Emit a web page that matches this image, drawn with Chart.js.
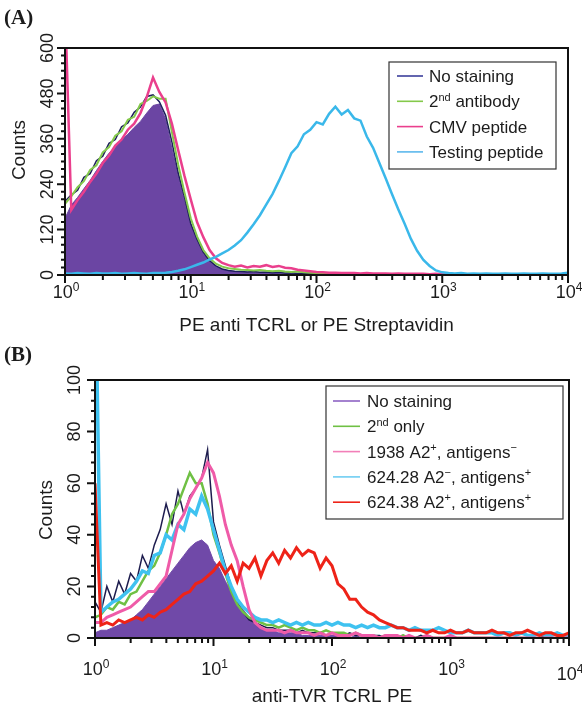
<!DOCTYPE html>
<html>
<head>
<meta charset="utf-8">
<script src="https://cdn.jsdelivr.net/npm/chart.js@4.4.1/dist/chart.umd.min.js"></script>
<style>
  body { margin: 0; background: #fff; }
  #wrap { position: relative; width: 582px; height: 705px; }
  canvas { position: absolute; left: 0; }
</style>
</head>
<body>
<div id="wrap">
  <canvas id="chartA" width="582" height="345" style="top:0"></canvas>
  <canvas id="chartB" width="582" height="375" style="top:330px"></canvas>
</div>
<script>
// x channels: 81 bins, 0.05 decade apart, from 10^0 to 10^4
const bins = Array.from({ length: 81 }, (_, i) => Math.pow(10, i / 20));
const decadeLabels = ['0', '1', '2', '3', '4'];

// ---- Panel A ----
const yTicksA = [0, 120, 240, 360, 480, 600];
const noStainFillA = [150,185,205,228,250,276,300,322,338,356,
  372,390,406,428,448,452,412,335,262,196,
  132,90,56,36,22,15,11,9,8,7,
  7,6,6,5,5,4,4,3,3,2,
  2,2,2,1,1,1,1,1,1,1,
  1,1,1,1,1,0,0,0,0,0,
  0,0,0,0,0,0,0,0,0,0,
  0,0,0,0,0,0,0,0,0,0,
  0];
const noStainLineA = [195,212,224,258,268,302,314,348,358,392,
  402,430,444,472,476,458,422,352,270,206,
  136,94,60,38,24,16,12,10,9,8,
  9,7,8,6,7,5,6,4,5,3,
  4,3,2,3,2,2,1,2,1,1,
  1,1,1,0,1,0,0,1,0,0,
  0,0,0,0,0,0,0,0,0,0,
  0,0,0,0,0,0,0,0,0,0,
  0];
const secondAbA = [188,208,232,248,278,290,324,338,368,380,
  410,418,452,460,472,466,466,378,292,218,
  150,102,66,44,30,22,18,16,14,13,
  12,13,11,10,11,9,8,9,7,6,
  5,5,4,4,3,3,3,2,2,2,
  2,1,2,1,1,1,1,0,1,0,
  0,1,0,0,0,0,0,0,0,0,
  0,0,0,0,0,0,0,0,0,0,
  0];
const cmvA = [720,172,198,220,246,268,296,316,342,358,
  384,400,428,470,522,484,456,400,330,262,
  200,140,100,66,44,32,26,22,25,20,
  24,22,26,21,24,19,18,14,12,10,
  8,7,6,6,5,5,5,4,5,4,
  4,4,3,4,3,3,3,3,2,3,
  2,1,1,1,0,0,1,0,0,0,
  0,0,0,0,0,0,0,0,0,0,
  0];
const testingA = [4,3,5,4,3,5,4,4,5,3,
  4,5,4,3,5,5,6,8,11,15,
  21,27,33,41,48,57,66,78,92,112,
  134,158,186,214,248,284,322,340,372,384,
  404,398,426,445,424,436,414,408,366,336,
  296,256,214,174,136,96,64,40,24,12,
  7,5,4,5,3,4,3,4,3,3,
  4,3,3,4,3,3,4,3,3,4,
  6];
const legendA = [
  [['No staining']],
  [['2'], ['nd', 1], [' antibody']],
  [['CMV peptide']],
  [['Testing peptide']]
];

// ---- Panel B ----
const yTicksB = [0, 20, 40, 60, 80, 100];
const noStainFillB = [2,3,3,4,5,6,7,9,11,14,
  17,20,23,26,29,32,35,37,38,36,
  30,27,22,18,14,11,8,6,4,3,
  3,2,2,2,2,1,1,1,1,1,
  1,1,1,0,1,0,0,0,0,0,
  0,0,0,0,0,0,0,0,0,0,
  0,0,0,0,0,0,0,0,0,0,
  0,0,0,0,0,0,0,0,0,0,
  0];
const noStainLineB = [14,10,20,14,22,17,25,22,32,27,
  36,42,52,44,57,48,55,58,62,73,
  45,36,28,20,14,10,7,6,5,4,
  4,3,3,3,2,3,2,2,2,1,
  2,1,1,2,1,1,0,1,1,0,
  1,0,1,0,0,1,0,0,0,0,
  0,0,0,0,0,0,0,0,0,0,
  0,0,0,0,0,0,1,0,0,0,
  0];
const secondOnlyB = [8,9,12,11,14,13,17,18,22,26,
  28,33,40,48,52,58,64,60,60,52,
  40,33,25,18,13,10,8,7,6,5,
  5,4,5,4,3,4,3,3,2,3,
  2,2,2,1,2,1,1,1,0,1,
  1,0,1,0,0,0,1,0,0,0,
  0,0,0,0,0,0,0,0,0,0,
  0,0,0,0,0,0,0,0,0,0,
  0];
const line1938B = [6,6,8,9,10,11,12,14,16,18,
  18,21,24,34,44,48,54,58,62,68,
  64,55,44,36,30,20,11,6,4,3,
  3,3,2,3,2,2,2,1,2,1,
  2,1,1,1,2,1,1,1,0,1,
  1,1,0,1,0,0,1,0,0,0,
  1,0,0,0,0,0,0,0,0,0,
  0,0,0,0,0,0,0,0,0,0,
  0];
const line62428B = [150,10,12,14,15,17,19,22,26,25,
  32,33,40,38,44,42,50,48,55,50,
  42,34,26,20,15,12,10,8,7,7,
  6,7,6,5,6,5,6,5,5,6,
  5,6,5,5,4,5,4,5,4,4,
  5,4,4,3,4,3,3,3,4,3,
  2,2,2,3,2,2,2,2,1,2,
  2,1,2,1,1,2,1,1,2,1,
  1];
const line62438B = [60,5,6,5,7,6,7,8,7,9,
  8,10,11,13,15,17,18,21,22,24,
  26,29,25,28,22,29,27,31,24,30,
  33,29,34,31,35,32,34,33,27,31,
  28,21,19,15,15,12,10,9,7,6,
  5,4,4,3,3,3,2,3,2,2,
  3,2,2,3,2,2,2,3,2,2,
  1,2,2,3,2,1,2,2,1,1,
  2];
const legendB = [
  [['No staining']],
  [['2'], ['nd', 1], [' only']],
  [['1938 A2'], ['+', 1], [', antigens'], ['\u2212', 1]],
  [['624.28 A2'], ['\u2212', 1], [', antigens'], ['+', 1]],
  [['624.38 A2'], ['+', 1], [', antigens'], ['+', 1]]
];

const SANS = '"Liberation Sans", Arial, Helvetica, sans-serif';
const INK = '#1c1c1c';

function pts(values) {
  return values.map((v, i) => ({ x: bins[i], y: v }));
}

// draws text made of [text, isSuperscript] parts
function richWidth(ctx, parts, size) {
  let w = 0;
  parts.forEach(([t, sup]) => {
    ctx.font = (sup ? Math.round(size * 0.65) : size) + 'px ' + SANS;
    w += ctx.measureText(t).width;
  });
  return w;
}
function drawRich(ctx, parts, x, y, size) {
  parts.forEach(([t, sup]) => {
    ctx.font = (sup ? Math.round(size * 0.65) : size) + 'px ' + SANS;
    ctx.fillText(t, x, sup ? y - size * 0.4 : y);
    x += ctx.measureText(t).width;
  });
}

function decor(p) {
  return {
    id: 'decor',
    afterDatasetsDraw(chart) {
      const ctx = chart.ctx, a = chart.chartArea;
      const xs = chart.scales.x, ys = chart.scales.y;
      ctx.save();
      ctx.fillStyle = INK;
      ctx.strokeStyle = '#111';

      // frame
      ctx.lineWidth = 2;
      ctx.strokeRect(a.left, a.top, a.right - a.left, a.bottom - a.top);

      // x ticks, major at decades, minor at 2..9
      ctx.lineWidth = 2;
      ctx.beginPath();
      for (let d = 0; d <= 4; d++) {
        for (let k = 1; k <= (d === 4 ? 1 : 9); k++) {
          const x = xs.getPixelForValue(k * Math.pow(10, d));
          ctx.moveTo(x, a.bottom);
          ctx.lineTo(x, a.bottom + (k === 1 ? 8 : 5));
        }
      }
      // y ticks
      for (let v = 0; v <= p.yMax; v += p.yMinor) {
        const y = ys.getPixelForValue(v);
        ctx.moveTo(a.left, y);
        ctx.lineTo(a.left - (p.yTicks.includes(v) ? 8 : 4), y);
      }
      ctx.stroke();

      // x tick labels 10^n
      ctx.textAlign = 'left';
      ctx.textBaseline = 'alphabetic';
      decadeLabels.forEach((e, i) => {
        const parts = [['10'], [e, 1]];
        const x = xs.getPixelForValue(Math.pow(10, i));
        const w = richWidth(ctx, parts, 18);
        const drop = i === 4 ? p.lastDrop : 0;
        drawRich(ctx, parts, x - w / 2 + 1, a.bottom + p.xLabelGap + drop, 18);
      });

      // y tick labels, rotated
      ctx.font = '18px ' + SANS;
      ctx.textAlign = 'center';
      p.yTicks.forEach(v => {
        ctx.save();
        ctx.translate(p.yLabelX, ys.getPixelForValue(v));
        ctx.rotate(-Math.PI / 2);
        ctx.fillText(String(v), 0, 0);
        ctx.restore();
      });

      // axis titles
      ctx.font = '19px ' + SANS;
      ctx.save();
      ctx.translate(p.countsX, p.countsY);
      ctx.rotate(-Math.PI / 2);
      ctx.fillText('Counts', 0, 0);
      ctx.restore();
      ctx.fillText(p.xTitle, (a.left + a.right) / 2, p.xTitleY);

      // panel letter
      ctx.textAlign = 'left';
      ctx.font = 'bold 21px "Liberation Serif", "Times New Roman", serif';
      ctx.fillText(p.letter, 4, p.letterY);

      // legend box
      const L = p.legend;
      ctx.fillStyle = '#fff';
      ctx.fillRect(L.x, L.y, L.w, L.h);
      ctx.strokeStyle = '#333';
      ctx.lineWidth = 1.2;
      ctx.strokeRect(L.x, L.y, L.w, L.h);
      L.labels.forEach((parts, i) => {
        const y = L.firstRow + i * L.rowStep;
        ctx.strokeStyle = L.colors[i];
        ctx.lineWidth = 1.6;
        ctx.beginPath();
        ctx.moveTo(L.lineX0, y);
        ctx.lineTo(L.lineX1, y);
        ctx.stroke();
        ctx.fillStyle = INK;
        drawRich(ctx, parts, L.textX, y + 6, 17);
      });
      ctx.restore();
    }
  };
}

function makeChart(id, datasets, yMax, pad, xH, yW, panel) {
  return new Chart(document.getElementById(id), {
    type: 'line',
    data: { datasets },
    options: {
      responsive: false,
      animation: false,
      devicePixelRatio: 1,
      layout: { padding: pad },
      elements: { point: { radius: 0 }, line: { tension: 0, borderJoinStyle: 'miter' } },
      plugins: { legend: { display: false }, tooltip: { enabled: false } },
      scales: {
        x: {
          type: 'logarithmic', min: 1, max: 10000,
          ticks: { display: false }, grid: { display: false }, border: { display: false },
          afterFit: s => { s.height = xH; }
        },
        y: {
          min: 0, max: yMax,
          ticks: { display: false }, grid: { display: false }, border: { display: false },
          afterFit: s => { s.width = yW; }
        }
      }
    },
    plugins: [decor(panel)]
  });
}

// colours
const purpleFillA = '#6b45a3', navyA = '#1d1f5c', greenA = '#84c94b', pinkA = '#ea3f8d', cyanA = '#3ab8ea';
const purpleFillB = '#7049a8', navyB = '#1d1c4e', greenB = '#6fc044', pinkB = '#ef5ba8', cyanB = '#3fc2f0', redB = '#ee2318';

makeChart('chartA', [
  { label: 'Testing peptide', data: pts(testingA), borderColor: cyanA, borderWidth: 2.5, fill: false, order: 0 },
  { label: 'CMV peptide', data: pts(cmvA), borderColor: pinkA, borderWidth: 2.5, fill: false, order: 1 },
  { label: '2nd antibody', data: pts(secondAbA), borderColor: greenA, borderWidth: 2, fill: false, order: 2 },
  { label: 'No staining', data: pts(noStainLineA), borderColor: navyA, borderWidth: 1.5, fill: false, order: 3 },
  { label: 'No staining fill', data: pts(noStainFillA), borderColor: purpleFillA, borderWidth: 1, backgroundColor: purpleFillA, fill: 'origin', order: 4 }
], 600, { left: 0, right: 14, top: 48, bottom: 0 }, 70, 65, {
  yMax: 600, yMinor: 20, yTicks: yTicksA, yLabelX: 53,
  xLabelGap: 23, lastDrop: 0,
  countsX: 25, countsY: 150,
  xTitle: 'PE anti TCRL or PE Streptavidin', xTitleY: 331,
  letter: '(A)', letterY: 24,
  legend: {
    x: 389, y: 62, w: 167, h: 107, firstRow: 76, rowStep: 25.3,
    lineX0: 397, lineX1: 423, textX: 429,
    labels: legendA, colors: ['#3d3f9c', greenA, pinkA, '#5cb8ec']
  }
});

makeChart('chartB', [
  { label: '624.38 A2+, antigens+', data: pts(line62438B), borderColor: redB, borderWidth: 3, fill: false, order: 0 },
  { label: '1938 A2+, antigens-', data: pts(line1938B), borderColor: pinkB, borderWidth: 3, fill: false, order: 1 },
  { label: '624.28 A2-, antigens+', data: pts(line62428B), borderColor: cyanB, borderWidth: 3.5, fill: false, order: 2 },
  { label: '2nd only', data: pts(secondOnlyB), borderColor: greenB, borderWidth: 2.5, fill: false, order: 3 },
  { label: 'No staining', data: pts(noStainLineB), borderColor: navyB, borderWidth: 1.5, fill: false, order: 4 },
  { label: 'No staining fill', data: pts(noStainFillB), borderColor: purpleFillB, borderWidth: 1, backgroundColor: purpleFillB, fill: 'origin', order: 5 }
], 100, { left: 0, right: 13, top: 50, bottom: 0 }, 67, 95, {
  yMax: 100, yMinor: 4, yTicks: yTicksB, yLabelX: 80,
  xLabelGap: 37, lastDrop: 5,
  countsX: 52, countsY: 180,
  xTitle: 'anti-TVR TCRL PE', xTitleY: 372,
  letter: '(B)', letterY: 31,
  legend: {
    x: 326, y: 56, w: 237, h: 133, firstRow: 71, rowStep: 25.3,
    lineX0: 333, lineX1: 360, textX: 367,
    labels: legendB, colors: ['#8e63c4', greenB, '#f27fb8', '#6fcdf2', redB]
  }
});
</script>
</body>
</html>
